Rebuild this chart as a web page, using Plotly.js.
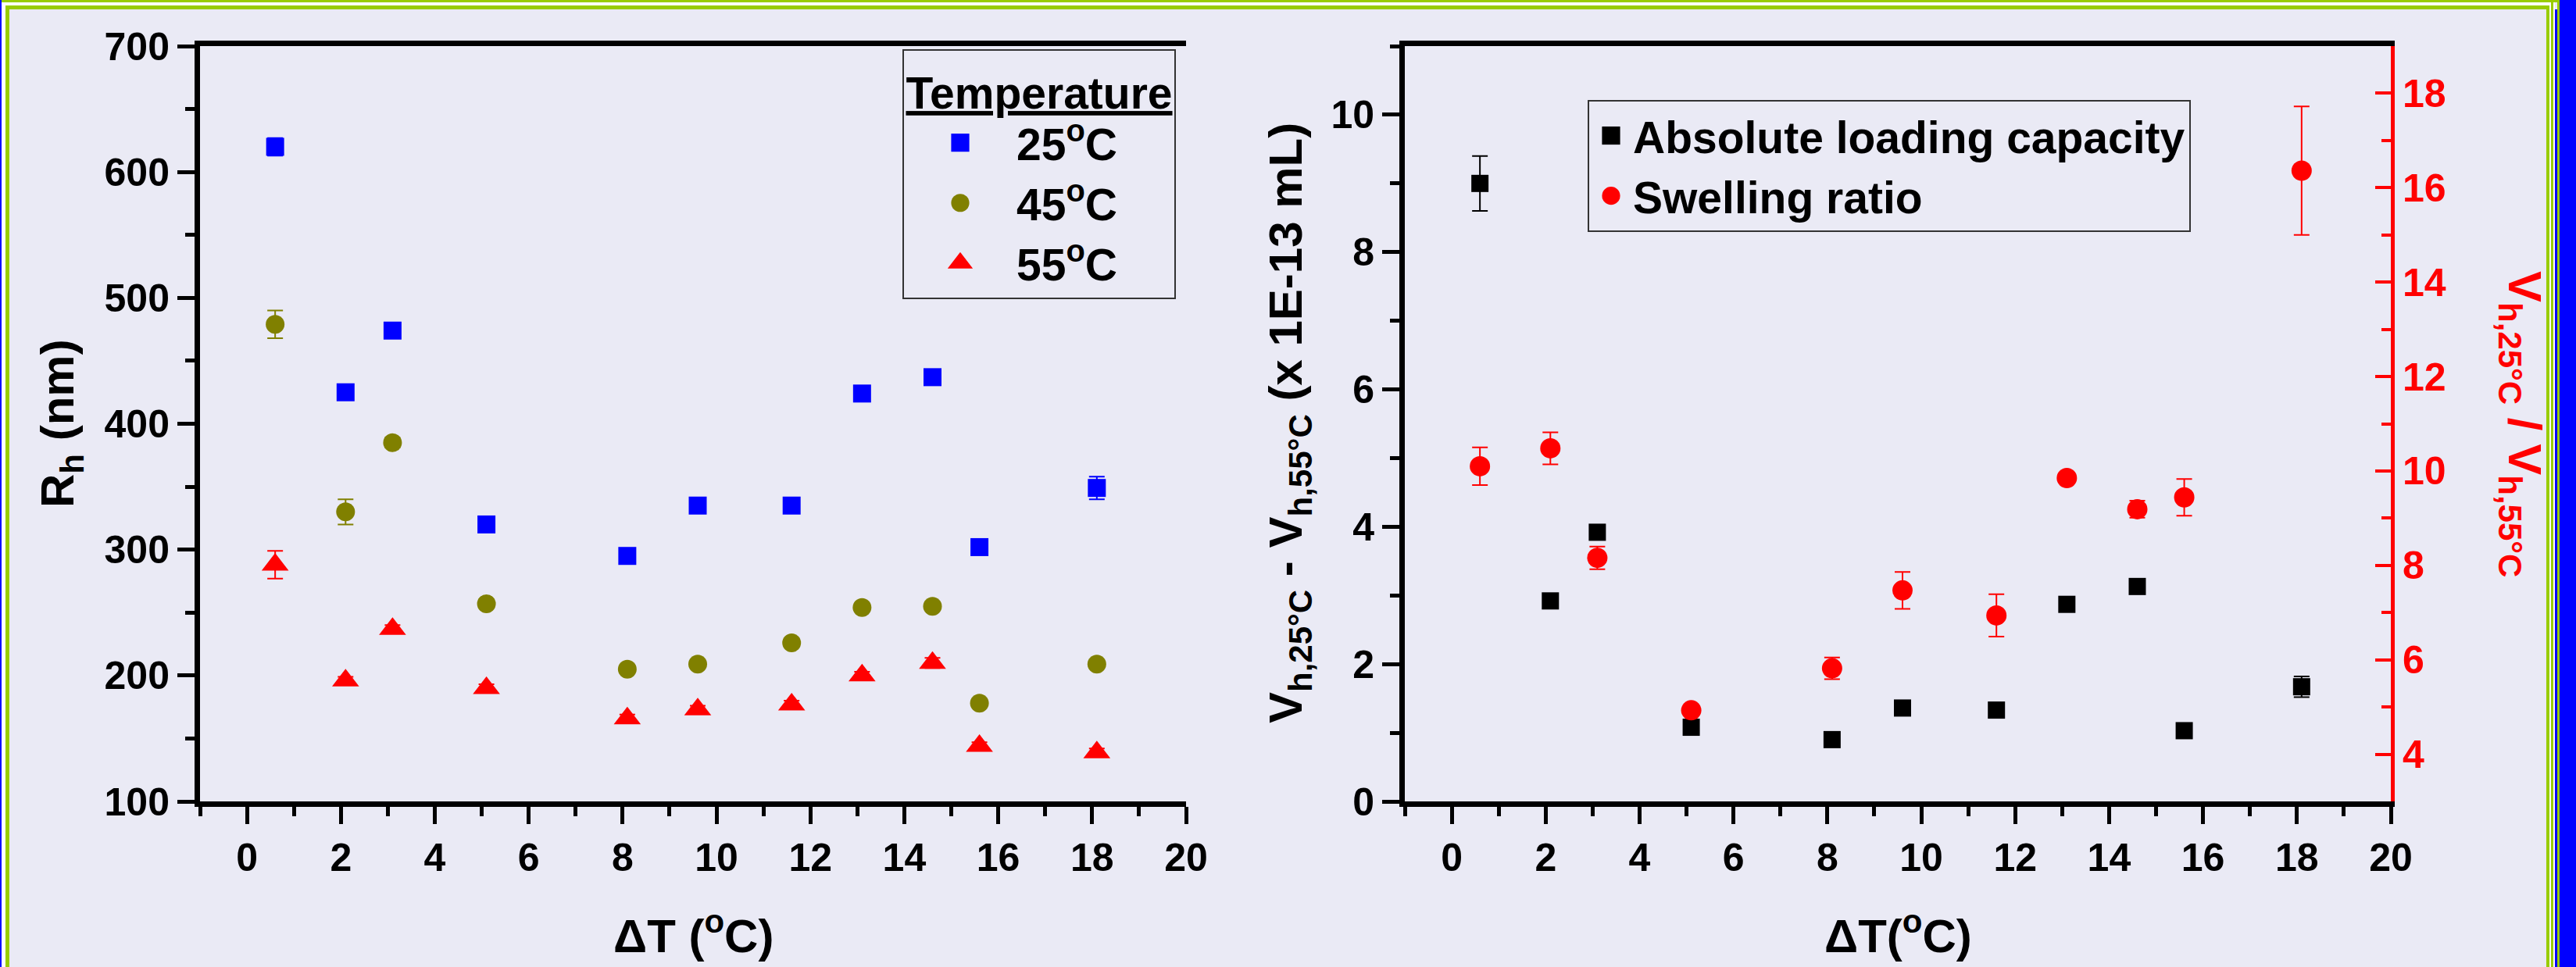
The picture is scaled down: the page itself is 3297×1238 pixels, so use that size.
<!DOCTYPE html>
<html><head><meta charset="utf-8">
<script src="https://cdn.plot.ly/plotly-3.0.1.min.js"></script>
<style>
html,body{margin:0;padding:0;background:#EAEAF5;}
#wrap{position:relative;width:3297px;height:1238px;overflow:hidden;background:#EAEAF5;}
#chart{position:absolute;left:0;top:0;width:3297px;height:1238px;}
.b{position:absolute;pointer-events:none;}
</style></head><body>
<div id="wrap"><div id="chart"></div>
<div class="b" style="left:0;top:0;width:3276px;height:3px;background:#99CC00"></div>
<div class="b" style="left:0;top:3px;width:3270px;height:4px;background:#FFFFFF"></div>
<div class="b" style="left:7px;top:7px;width:3261px;height:5px;background:#99CC00"></div>
<div class="b" style="left:0;top:0;width:2px;height:1238px;background:#0000FF"></div>
<div class="b" style="left:2px;top:3px;width:5px;height:1235px;background:#FFFFFF"></div>
<div class="b" style="left:7px;top:7px;width:5px;height:1231px;background:#99CC00"></div>
<div class="b" style="left:3259px;top:7px;width:4px;height:1231px;background:#99CC00"></div>
<div class="b" style="left:3263px;top:3px;width:2px;height:1235px;background:#FFFFFF"></div>
<div class="b" style="left:3265px;top:3px;width:3px;height:1235px;background:#99CC00"></div>
<div class="b" style="left:3268px;top:3px;width:2px;height:1235px;background:#FFFFFF"></div>
<div class="b" style="left:3270px;top:12px;width:3px;height:1226px;background:#0000FF"></div>
<div class="b" style="left:3273px;top:0;width:3px;height:1238px;background:#99CC00"></div>
<div class="b" style="left:3276px;top:0;width:21px;height:1238px;background:#0000FF"></div>
</div>
<script>
// ---- data ----
const deltaT = [0.6, 2.1, 3.1, 5.1, 8.1, 9.6, 11.6, 13.1, 14.6, 15.6, 18.1];
const rh25 = [620, 425, 474, 320, 295, 335, 335, 424, 437, 302, 349];
const rh25Err = [7, 3, 3, 3, 3, 3, 4, 3, 3, 3, 9];
const rh45 = [479, 330, 385, 257, 205, 209, 226, 254, 255, 178, 209];
const rh45Err = [11, 10, 4, 3, 3, 3, 3, 3, 3, 3, 3];
const rh55 = [288, 196, 237, 190, 166, 173, 177, 200, 210, 144, 139];
const rh55Err = [11, 3, 3, 3, 3, 3, 3, 3, 4, 3, 3];
const absLoading = [9.0, 2.92, 3.92, 1.08, 0.90, 1.36, 1.33, 2.87, 3.13, 1.03, 1.67];
const absLoadingErr = [0.40, 0.05, 0.08, 0.05, 0.04, 0.05, 0.05, 0.05, 0.05, 0.05, 0.15];
const swelling = [10.10, 10.48, 8.16, 4.93, 5.82, 7.47, 6.94, 9.85, 9.19, 9.44, 16.36];
const swellingErr = [0.40, 0.34, 0.24, 0.08, 0.23, 0.39, 0.45, 0.10, 0.18, 0.39, 1.36];
const tempNames = ['25<sup>o</sup>C', '45<sup>o</sup>C', '55<sup>o</sup>C'];
const seriesNames = ['Absolute loading capacity', 'Swelling ratio'];

// ---- style ----
const FF = 'Liberation Sans, Arial, sans-serif';
const W = 3297, H = 1238;
const px = v => v / W, py = v => 1 - v / H;
const tickFont = c => ({family: FF, size: 50, color: c, weight: 'bold'});

function errs(arr, color) {
  return {type: 'data', array: arr, visible: true, color: color, thickness: 2, width: 10};
}

const data = [
  {x: deltaT, y: rh25, error_y: errs(rh25Err, '#0000FF'), mode: 'markers', type: 'scatter',
   marker: {symbol: 'square', size: 23, color: '#0000FF'}, name: tempNames[0], xaxis: 'x', yaxis: 'y', legend: 'legend'},
  {x: deltaT, y: rh45, error_y: errs(rh45Err, '#808000'), mode: 'markers', type: 'scatter',
   marker: {symbol: 'circle', size: 24, color: '#808000'}, name: tempNames[1], xaxis: 'x', yaxis: 'y', legend: 'legend'},
  {x: deltaT, y: rh55, error_y: errs(rh55Err, '#FF0000'), mode: 'markers', type: 'scatter',
   marker: {symbol: 'triangle-up', size: 30, color: '#FF0000'}, name: tempNames[2], xaxis: 'x', yaxis: 'y', legend: 'legend'},
  {x: deltaT, y: absLoading, error_y: errs(absLoadingErr, '#000000'), mode: 'markers', type: 'scatter',
   marker: {symbol: 'square', size: 22, color: '#000000'}, name: seriesNames[0], xaxis: 'x2', yaxis: 'y2', legend: 'legend2'},
  {x: deltaT, y: swelling, error_y: errs(swellingErr, '#FF0000'), mode: 'markers', type: 'scatter',
   marker: {symbol: 'circle', size: 26, color: '#FF0000'}, name: seriesNames[1], xaxis: 'x2', yaxis: 'y3', legend: 'legend2'}
];

function xAx(dom, anchor) {
  return {domain: dom, anchor: anchor, range: [-1, 20], tick0: 0, dtick: 2,
    ticks: 'outside', ticklen: 22, tickwidth: 5, tickcolor: '#000',
    linecolor: '#000', linewidth: 7, mirror: true, showline: true,
    showgrid: false, zeroline: false, tickfont: tickFont('#000'),
    minor: {ticks: 'outside', ticklen: 12, tickwidth: 5, tickcolor: '#000', dtick: 1, showgrid: false}};
}
function yAx(anchor, range, dtick, mdtick) {
  return {domain: [py(1026), py(59)], anchor: anchor, range: range, dtick: dtick,
    ticks: 'outside', ticklen: 22, tickwidth: 5, tickcolor: '#000',
    linecolor: '#000', linewidth: 7, showline: true,
    showgrid: false, zeroline: false, tickfont: tickFont('#000'),
    minor: {ticks: 'outside', ticklen: 12, tickwidth: 5, tickcolor: '#000', dtick: mdtick, showgrid: false}};
}

const legFont = {family: FF, size: 57, color: '#000', weight: 'bold'};
const annFont = (c) => ({family: FF, size: 60, color: c, weight: 'bold'});

const layout = {
  width: W, height: H,
  margin: {l: 0, r: 0, t: 0, b: 0},
  paper_bgcolor: '#EAEAF5', plot_bgcolor: '#EAEAF5',
  font: {family: FF},
  xaxis: xAx([px(256), px(1518)], 'y'),
  yaxis: yAx('x', [100, 700], 100, 50),
  xaxis2: xAx([px(1798), px(3060)], 'y2'),
  yaxis2: yAx('x2', [0, 11], 2, 1),
  yaxis3: {overlaying: 'y2', anchor: 'x2', side: 'right', range: [3, 19], tick0: 4, dtick: 2,
    ticks: 'inside', ticklen: 20, tickwidth: 4, tickcolor: '#FF0000',
    linecolor: '#FF0000', linewidth: 5, showline: true,
    showgrid: false, zeroline: false, tickfont: tickFont('#FF0000'),
    minor: {ticks: 'inside', ticklen: 12, tickwidth: 4, tickcolor: '#FF0000', dtick: 1, showgrid: false}},
  showlegend: true,
  legend: {x: px(1155), y: py(63), xanchor: 'left', yanchor: 'top', itemwidth: 134,
    bgcolor: 'rgba(0,0,0,0)', bordercolor: '#333', borderwidth: 2, font: legFont,
    title: {text: '<u>Temperature</u>', side: 'top center', font: legFont}},
  legend2: {x: px(2032), y: py(128), xanchor: 'left', yanchor: 'top', itemwidth: 46,
    bgcolor: 'rgba(0,0,0,0)', bordercolor: '#333', borderwidth: 2, font: legFont},
  annotations: [
    {text: 'R<sub>h</sub> (nm)', xref: 'paper', yref: 'paper', x: px(78), y: py(542),
     xanchor: 'center', yanchor: 'middle', textangle: -90, showarrow: false, font: annFont('#000')},
    {text: '\u0394T (<sup>o</sup>C)', xref: 'paper', yref: 'paper', x: px(887), y: py(1194),
     xanchor: 'center', yanchor: 'middle', showarrow: false, font: annFont('#000')},
    {text: '\u0394T(<sup>o</sup>C)', xref: 'paper', yref: 'paper', x: px(2429), y: py(1194),
     xanchor: 'center', yanchor: 'middle', showarrow: false, font: annFont('#000')},
    {text: 'V<sub>h,25\u00B0C</sub> - V<sub>h,55\u00B0C</sub> (x 1E-13 mL)', xref: 'paper', yref: 'paper',
     x: px(1650), y: py(542), xanchor: 'center', yanchor: 'middle', textangle: -90, showarrow: false, font: annFont('#000')},
    {text: 'V<sub>h,25\u00B0C</sub> / V<sub>h,55\u00B0C</sub>', xref: 'paper', yref: 'paper',
     x: px(3227), y: py(543), xanchor: 'center', yanchor: 'middle', textangle: 90, showarrow: false, font: annFont('#FF0000')}
  ]
};

function enlargeLegendMarkers(gd) {
  gd.querySelectorAll('path.scatterpts').forEach(function (p) {
    var t = p.getAttribute('transform') || '';
    if (/scale/.test(t)) return;
    var d = p.getAttribute('d') || '';
    var s = (d.indexOf('H') >= 0 && d.indexOf('L0') >= 0) ? 1.75 : 1.45;
    p.setAttribute('transform', (t + ' scale(' + s + ')').trim());
  });
}

Plotly.newPlot('chart', data, layout, {staticPlot: true}).then(function (gd) {
  enlargeLegendMarkers(gd);
  gd.on('plotly_afterplot', function () { enlargeLegendMarkers(gd); });
  var obs = new MutationObserver(function () { enlargeLegendMarkers(gd); });
  obs.observe(gd, {subtree: true, childList: true, attributes: true, attributeFilter: ['transform', 'd']});
  [0, 30, 100, 300, 800].forEach(function (ms) { setTimeout(function () { enlargeLegendMarkers(gd); }, ms); });
});
</script>
</body></html>
